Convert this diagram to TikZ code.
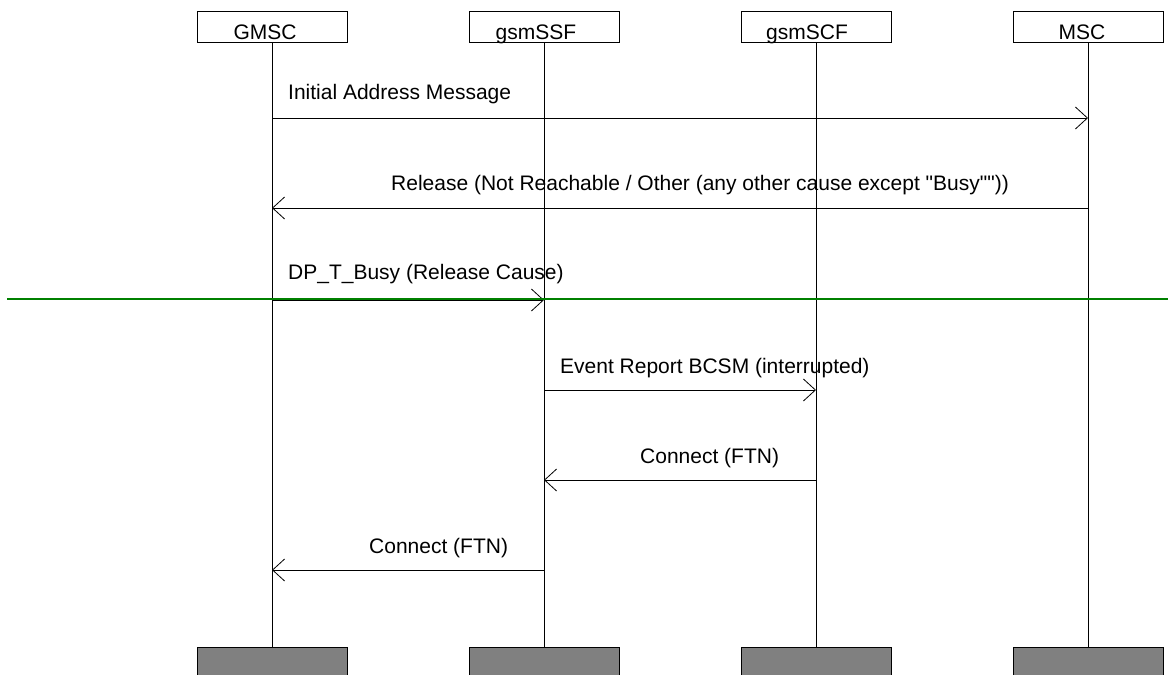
\documentclass[tikz,border=0pt]{standalone}
\usepackage{fontspec}
\setmainfont{Liberation Sans}
% plain family without TeX ligature mapping, so that " stays a straight quote
\newfontfamily\labelfont{Liberation Sans}[Ligatures=ResetAll]
\usetikzlibrary{arrows.meta}
\definecolor{cutgreen}{RGB}{0,128,0}
\definecolor{footgray}{RGB}{128,128,128}
\begin{document}
\begin{tikzpicture}[x=1pt,y=-1pt,
  every node/.style={font=\labelfont\fontsize{21}{25}\selectfont},
  headbox/.style={draw=black,line width=0.8pt,minimum width=150pt,minimum height=31pt,inner sep=0pt,outer sep=0pt},
  footbox/.style={draw=black,line width=1pt,fill=footgray,minimum width=150pt,minimum height=40pt,inner sep=0pt,outer sep=0pt,anchor=north},
  headtext/.style={anchor=base,inner sep=0pt},
  lifeline/.style={draw=black,line width=0.8pt},
  msg/.style={draw=black,line width=0.8pt,-{Straight Barb[length=12pt,width=22pt,line width=0.8pt]}},
  msgtext/.style={anchor=base west,inner sep=0pt}]
\useasboundingbox (0,0) rectangle (1168,675);
\clip (0,0) rectangle (1168,675);
\fill[white] (0,0) rectangle (1168,675);

% entity heads
\node[headbox] (gmsc) at (272,26.5) {};
\node[headbox] (ssf)  at (544,26.5) {};
\node[headbox] (scf)  at (816,26.5) {};
\node[headbox] (msc)  at (1088,26.5) {};
\node[headtext] (gmscT) at (265,39.5) {GMSC};
\node[headtext] (ssfT)  at (536,39.5) {gsmSSF};
\node[headtext] (scfT)  at (807,39.5) {gsmSCF};
\node[headtext] (mscT)  at (1082,39.5) {MSC};

% entity feet
\node[footbox] (gmscB) at (272,647) {};
\node[footbox] (ssfB)  at (544,647) {};
\node[footbox] (scfB)  at (816,647) {};
\node[footbox] (mscB)  at (1088,647) {};

% lifelines
\draw[lifeline] (gmsc.south) -- (gmscB.north);
\draw[lifeline] (ssf.south) -- (ssfB.north);
\draw[lifeline] (scf.south) -- (scfB.north);
\draw[lifeline] (msc.south) -- (mscB.north);

% message end points
\coordinate (m1a) at (272,118);  \coordinate (m1b) at (1088,118);
\coordinate (m2a) at (1088,208); \coordinate (m2b) at (272,208);
\coordinate (m3a) at (272,300);  \coordinate (m3b) at (544,300);
\coordinate (m4a) at (544,390);  \coordinate (m4b) at (816,390);
\coordinate (m5a) at (816,480);  \coordinate (m5b) at (544,480);
\coordinate (m6a) at (544,570);  \coordinate (m6b) at (272,570);

% messages
\draw[msg] (m1a) -- (m1b);
\node[msgtext] (t1) at (288,99) {Initial Address Message};
\draw[msg] (m2a) -- (m2b);
\node[msgtext] (t2) at (391,190) {Release (Not Reachable / Other (any other cause except "Busy""))};
\draw[msg] (m3a) -- (m3b);
\node[msgtext] (t3) at (288,279) {DP\_T\_Busy (Release Cause)};
\draw[msg] (m4a) -- (m4b);
\node[msgtext] (t4) at (560,373) {Event Report BCSM (interrupted)};
\draw[msg] (m5a) -- (m5b);
\node[msgtext] (t5) at (640,463) {Connect (FTN)};
\draw[msg] (m6a) -- (m6b);
\node[msgtext] (t6) at (369,553) {Connect (FTN)};

% green separator
\coordinate (sepL) at (7,299);
\coordinate (sepR) at (1168,299);
\draw[cutgreen,line width=1.6pt] (sepL) -- (sepR);
\end{tikzpicture}
\end{document}
